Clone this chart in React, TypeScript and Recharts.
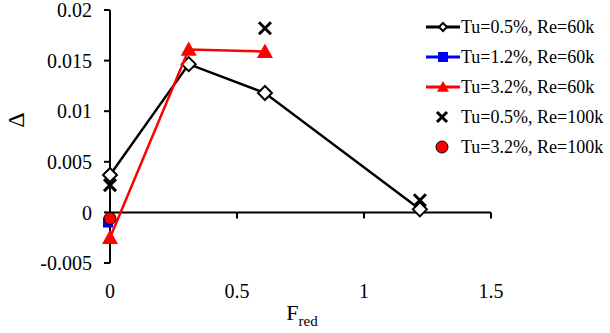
import { ScatterChart, Scatter, XAxis, YAxis, ReferenceLine, Legend, Label } from 'recharts';

// F_red positions and Delta values
const fredRe60 = [0, 0.31, 0.61, 1.22];
const tu05Re60 = [0.0037, 0.01465, 0.0118, 0.0003];

const fredTu12 = [0];
const tu12Re60 = [-0.001];

const fredTu32 = [0, 0.31, 0.61];
const tu32Re60 = [-0.0025, 0.0161, 0.0159];

const fredRe100 = [0, 0.61, 1.22];
const tu05Re100 = [0.0027, 0.0182, 0.0012];

const fredTu32Re100 = [0];
const tu32Re100 = [-0.0006];

const xTicks = [0, 0.5, 1, 1.5];
const yTicks = [-0.005, 0, 0.005, 0.01, 0.015, 0.02];

const seriesNames = [
  'Tu=0.5%, Re=60k',
  'Tu=1.2%, Re=60k',
  'Tu=3.2%, Re=60k',
  'Tu=0.5%, Re=100k',
  'Tu=3.2%, Re=100k',
];

const FONT = 'Liberation Serif, DejaVu Serif, serif';

const toPoints = (xs: number[], ys: number[]) => xs.map((x, i) => ({ x, y: ys[i] }));

const Diamond = ({ cx, cy, r = 7 }: any) => (
  <path
    d={`M${cx},${cy - r} L${cx + r},${cy} L${cx},${cy + r} L${cx - r},${cy} Z`}
    fill="#fff"
    stroke="#000"
    strokeWidth={2}
  />
);

const Square = ({ cx, cy, r = 5 }: any) => (
  <rect x={cx - r} y={cy - r} width={r * 2} height={r * 2} fill="#0000ff" />
);

const Triangle = ({ cx, cy, r = 8 }: any) => (
  <path d={`M${cx},${cy - r} L${cx + r},${cy + r * 0.8} L${cx - r},${cy + r * 0.8} Z`} fill="#ff0000" />
);

const Cross = ({ cx, cy, r = 6 }: any) => (
  <path
    d={`M${cx - r},${cy - r} L${cx + r},${cy + r} M${cx - r},${cy + r} L${cx + r},${cy - r}`}
    stroke="#000"
    strokeWidth={3}
  />
);

const Dot = ({ cx, cy, r = 6 }: any) => (
  <circle cx={cx} cy={cy} r={r} fill="#ff0000" stroke="#000" strokeWidth={1} />
);

const legendIcons = [
  { color: '#000', line: true, Mark: Diamond, r: 4 },
  { color: '#0000ff', line: true, Mark: Square, r: 5 },
  { color: '#ff0000', line: true, Mark: Triangle, r: 6 },
  { color: '#000', line: false, Mark: Cross, r: 5 },
  { color: '#000', line: false, Mark: Dot, r: 6 },
];

const renderLegend = () => (
  <div style={{ fontFamily: FONT, fontSize: 18, color: '#000' }}>
    {seriesNames.map((name, i) => {
      const ic = legendIcons[i];
      const Mark = ic.Mark;
      return (
        <div key={name} style={{ display: 'flex', alignItems: 'center', height: 30 }}>
          <svg width={34} height={18} style={{ marginRight: 1 }}>
            {ic.line && <line x1={0} y1={9} x2={34} y2={9} stroke={ic.color} strokeWidth={3} />}
            <Mark cx={ic.line ? 17 : 16} cy={9} r={ic.r} />
          </svg>
          <span style={{ whiteSpace: 'nowrap' }}>{name}</span>
        </div>
      );
    })}
  </div>
);

const renderYLabel = ({ viewBox }: any) => (
  <text
    x={viewBox.x - 14}
    y={viewBox.y + 110}
    transform={`rotate(-90, ${viewBox.x - 14}, ${viewBox.y + 110})`}
    textAnchor="middle"
    dominantBaseline="central"
    fontFamily={FONT}
    fontSize={24}
    fill="#000"
  >
    Δ
  </text>
);

const renderXLabel = ({ viewBox }: any) => (
  <text x={viewBox.x + 192} y={viewBox.y + 57} textAnchor="middle" fontFamily={FONT} fontSize={22} fill="#000">
    F
    <tspan fontSize={15} dy={6}>
      red
    </tspan>
  </text>
);

export default function App() {
  const tickStyle = { fontFamily: FONT, fontSize: 20, fill: '#000' };
  return (
    <div style={{ position: 'absolute', left: 0, top: 0, background: '#fff' }}>
      <ScatterChart width={610} height={333} margin={{ top: 10, right: 119, bottom: 20, left: 30 }}>
        <XAxis
          type="number"
          dataKey="x"
          domain={[0, 1.5]}
          ticks={xTicks}
          axisLine={false}
          tickLine={false}
          tickSize={0}
          tickMargin={21}
          height={50}
          tick={tickStyle}
          interval={0}
        >
          <Label content={renderXLabel} />
        </XAxis>
        <YAxis
          type="number"
          dataKey="y"
          domain={[-0.005, 0.02]}
          ticks={yTicks}
          width={80}
          axisLine={{ stroke: '#000', strokeWidth: 2 }}
          tickLine={{ stroke: '#000', strokeWidth: 2 }}
          tickSize={6}
          tickMargin={12}
          tick={tickStyle}
          interval={0}
        >
          <Label content={renderYLabel} />
        </YAxis>
        <ReferenceLine y={0} stroke="#000" strokeWidth={2} />
        {xTicks.slice(1).map((t) => (
          <ReferenceLine
            key={t}
            segment={[
              { x: t, y: 0 },
              { x: t, y: -0.0006 },
            ]}
            stroke="#000"
            strokeWidth={2}
          />
        ))}
        <Scatter
          name={seriesNames[0]}
          data={toPoints(fredRe60, tu05Re60)}
          line={{ stroke: '#000', strokeWidth: 2.5 }}
          lineType="joint"
          shape={(p: any) => <Diamond cx={p.cx} cy={p.cy} />}
          isAnimationActive={false}
        />
        <Scatter
          name={seriesNames[1]}
          data={toPoints(fredTu12, tu12Re60)}
          shape={(p: any) => <Square cx={p.cx - 2} cy={p.cy} />}
          isAnimationActive={false}
        />
        <Scatter
          name={seriesNames[2]}
          data={toPoints(fredTu32, tu32Re60)}
          line={{ stroke: '#ff0000', strokeWidth: 2.5 }}
          lineType="joint"
          shape={(p: any) => <Triangle cx={p.cx} cy={p.cy} />}
          isAnimationActive={false}
        />
        <Scatter
          name={seriesNames[3]}
          data={toPoints(fredRe100, tu05Re100)}
          shape={(p: any) => <Cross cx={p.cx} cy={p.cy} />}
          isAnimationActive={false}
        />
        <Scatter
          name={seriesNames[4]}
          data={toPoints(fredTu32Re100, tu32Re100)}
          shape={(p: any) => <Dot cx={p.cx} cy={p.cy} />}
          isAnimationActive={false}
        />
        <Legend
          content={renderLegend}
          layout="horizontal"
          verticalAlign="middle"
          align="center"
          wrapperStyle={{ position: 'absolute', left: 426, top: 12, width: 184 }}
        />
      </ScatterChart>
    </div>
  );
}
